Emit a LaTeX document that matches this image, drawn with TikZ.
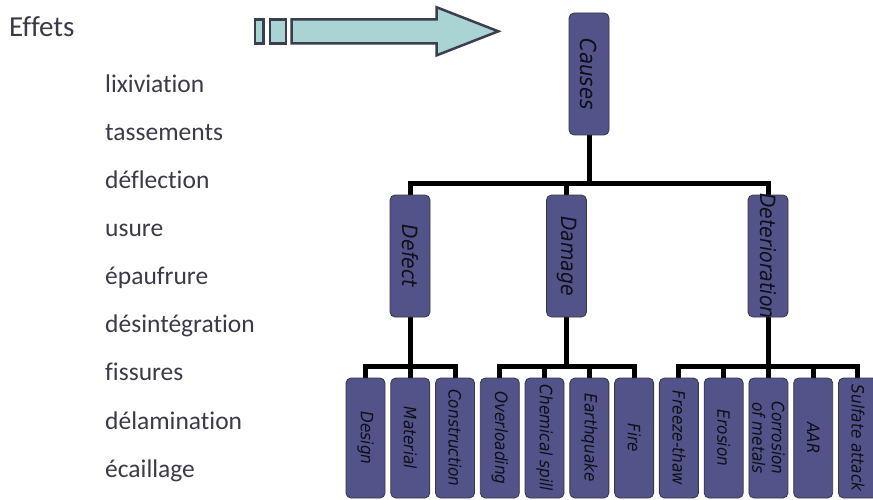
\documentclass[tikz,border=0pt]{standalone}
\usepackage{fontspec}
\setmainfont{Carlito}[Ligatures=NoCommon]
\newfontfamily\boxfont{DejaVu Sans Condensed}
\usetikzlibrary{backgrounds}
\definecolor{boxfill}{RGB}{82,83,137}
\definecolor{boxline}{RGB}{55,55,60}
\definecolor{boxtext}{RGB}{15,15,25}
\definecolor{lefttext}{RGB}{58,58,74}
\definecolor{arrowfill}{RGB}{170,211,211}
\definecolor{arrowline}{RGB}{59,62,78}
\begin{document}
\begin{tikzpicture}[x=1pt,y=-1pt,
  boxbase/.style={draw=boxline, line width=0.8pt, fill=boxfill, rounded corners=5pt, inner sep=0pt},
  bigbox/.style={boxbase, minimum width=40pt, minimum height=122pt},
  smallbox/.style={boxbase, minimum width=39pt, minimum height=120pt},
  btext/.style={rotate=-90, text=boxtext, align=center, inner sep=0pt},
  bigtext/.style={btext, font=\boxfont\itshape\fontsize{21}{24}\selectfont},
  smalltext/.style={btext, font=\boxfont\itshape\fontsize{17}{19.5}\selectfont},
  conn/.style={draw=black, line width=5pt},
  listtext/.style={anchor=base west, inner sep=0pt, text=lefttext, font=\fontsize{25.5}{30}\selectfont},
  arrowpart/.style={draw=arrowline, fill=arrowfill, line width=2.5pt, line join=miter}
]
\useasboundingbox (0,0) rectangle (873,500);

% left text
\node[listtext, font=\fontsize{29}{34}\selectfont] (effets) at (9,37) {Effets};
\foreach \t [count=\i] in {lixiviation,tassements,déflection,usure,épaufrure,désintégration,fissures,délamination,écaillage}
  \node[listtext] (e\i) at (105,{92.3+48.1*(\i-1)}) {\t};

% arrow
\draw[arrowpart] (255,19.3) rectangle (263.3,43.3);
\draw[arrowpart] (270,19.3) rectangle (286,43.3);
\draw[arrowpart] (291.7,19.3) -- (436.7,19.3) -- (436.7,7.3) -- (498.3,31.3) -- (436.7,55.3) -- (436.7,43.3) -- (291.7,43.3) -- cycle;

% top
\node[bigbox] (causes) at (589,74) {};
\node[bigtext, font=\boxfont\itshape\fontsize{22}{25}\selectfont] (causesT) at (causes) {Causes};

% middle
\node[bigbox] (defect) at (410,256) {};
\node[bigtext] (defectT) at (defect) {Defect};
\node[bigbox] (damage) at (566.5,256) {};
\node[bigtext] (damageT) at (damage) {Damage};
\node[bigbox] (deter) at (768,256) {};
\node[bigtext] (deterT) at (deter) {Deterioration};

% bottom
\foreach \n/\t [count=\i] in {design/Design,material/Material,construction/Construction,overloading/Overloading,chemical/Chemical spill,earthquake/Earthquake,fire/Fire,freeze/Freeze-thaw,erosion/Erosion,corrosion/Corrosion\\of metals,aar/AAR,sulfate/Sulfate attack}
{
  \node[smallbox] (\n) at ({365.5+44.77*(\i-1)},438) {};
  \node[smalltext] (\n T) at (\n) {\t};
}

% connectors
\begin{scope}[on background layer]
  \coordinate (b0) at (589,183);
  \draw[conn] (causes.south) -- (b0);
  \foreach \n in {defect,damage,deter} \draw[conn] (b0) -| (\n.north);
  \coordinate (b1) at (410,366);
  \draw[conn] (defect.south) -- (b1);
  \foreach \n in {design,material,construction} \draw[conn] (b1) -| (\n.north);
  \coordinate (b2) at (566.5,366);
  \draw[conn] (damage.south) -- (b2);
  \foreach \n in {overloading,chemical,earthquake,fire} \draw[conn] (b2) -| (\n.north);
  \coordinate (b3) at (768,366);
  \draw[conn] (deter.south) -- (b3);
  \foreach \n in {freeze,erosion,corrosion,aar,sulfate} \draw[conn] (b3) -| (\n.north);
\end{scope}
\end{tikzpicture}
\end{document}
